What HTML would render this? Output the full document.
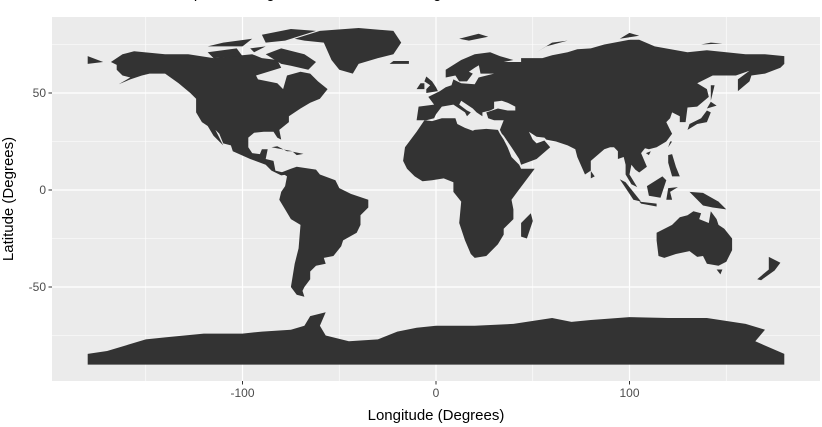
<!DOCTYPE html>
<html><head><meta charset="utf-8"><style>
html,body{margin:0;padding:0;background:#fff;width:822px;height:427px;overflow:hidden}
svg{display:block;font-family:"Liberation Sans",sans-serif}
</style></head><body>
<svg id="c" width="822" height="427">
<text x="130" y="-2" font-size="15" fill="#000">World Map, with Longitude and Latitude in Degrees</text>
<rect x="52" y="17" width="768" height="364" fill="#ebebeb"/>
<g id="grid"></g><g id="land"></g><g id="axes"></g>
<text x="436" y="420" font-size="15" text-anchor="middle" fill="#000">Longitude (Degrees)</text>
<text transform="translate(13,199) rotate(-90)" font-size="15" text-anchor="middle" fill="#000">Latitude (Degrees)</text>
</svg>
<script>
const xMajor=[-100,0,100], xMinor=[-150,-50,50,150];
const yMajor=[-50,0,50], yMinor=[-75,-25,25,75];
const xTickLabels=["-100","0","100"], yTickLabels=["-50","0","50"];
const northAmerica=[[-168,66],[-162,70],[-156,71.5],[-140,70],[-128,70],[-115,68],[-95,70],[-90,68],[-82,67],[-80,63],[-93,59],[-92,57],[-82,55],[-79,52],[-77,59],[-70,61],[-65,60],[-61,56],[-56,52],[-60,47],[-65,45],[-70,42],[-76,38],[-76,35],[-81,31],[-80,26],[-82,27],[-84,30],[-89,30],[-94,29.5],[-97,27],[-97,22],[-95,19],[-91,18.5],[-90,21],[-87,21],[-88,16],[-84,15],[-83,10],[-79,9],[-77,8],[-80,7.5],[-85,10],[-88,13],[-92,14.5],[-96,16],[-105,20],[-106,23],[-110,24],[-112,29],[-114,31],[-110,23],[-115,28],[-118,33],[-121,35],[-124,40],[-124,47],[-127,50],[-133,55],[-140,60],[-148,60],[-152,59],[-158,57],[-164,54.5],[-158,58],[-162,59],[-165,62],[-165,64.5]];
const greenland=[[-73,78],[-60,82],[-40,83.5],[-22,82],[-18,76],[-22,70],[-30,68],[-40,65],[-43,60],[-50,62],[-54,67],[-58,76],[-68,77]];
const arcticIslands=[[[-80,73],[-68,70],[-62,66],[-66,62],[-75,64],[-80,65],[-88,70]],[[-118,71],[-103,73],[-100,69],[-115,68]],[[-90,80],[-75,83],[-62,82],[-78,77],[-88,76]],[[-110,76],[-95,78],[-100,74],[-118,74]],[[-96,73],[-88,74],[-94,71]],[[-180,69],[-172,66],[-180,65]]];
const southAmerica=[[-80,9],[-75,11],[-72,12],[-62,10.5],[-60,8],[-52,5],[-50,1],[-44,-2],[-35,-5],[-35,-9],[-39,-13],[-39,-18],[-41,-22],[-48,-26],[-49,-29],[-53,-34],[-58,-35],[-57,-38],[-62,-39],[-65,-42],[-65,-46],[-68,-50],[-69,-52],[-68,-55],[-72,-54],[-75,-50],[-74,-44],[-73,-38],[-71,-30],[-70,-18],[-75,-15],[-78,-10],[-81,-5],[-80,-1],[-78,2],[-77,7]];
const eurasia=[[-10,36],[-9,43],[-1,44],[-4,48],[2,51],[5,53],[8,54],[9,57],[11,56],[13,55],[20,54.5],[22,58],[30,60],[23,60],[22,65],[25,66],[20,63],[17,61],[19,60],[16,56],[12,56],[10,59],[5,58],[5,62],[13,67],[20,70],[28,71],[33,69],[40,67],[35,66],[44,66],[44,68],[55,68],[60,69.5],[68,71],[73,72.5],[80,73],[87,75],[100,77.5],[105,77.5],[113,74],[130,71],[140,72],[150,71],[160,70],[170,70],[180,69],[180,65],[178,63],[170,60],[163,59],[162,56],[156,51],[156,57],[162,61.5],[155,59],[143,59],[135,55],[140,52],[141,48],[135,43],[130,42.5],[129,35],[126,35],[126,38],[122,40],[121,37],[119,35],[121,31],[122,29],[119,25],[114,22],[110,21],[108,21.5],[106,19],[109,12],[105,9],[103,10.5],[101,13],[100,8],[104,1.5],[101,3],[98,8],[98,13],[97,17],[94,16],[94,20],[92,22],[90,22],[87,21],[80,15],[80,10],[77,8],[73,17],[72,21],[68,23],[62,25],[57,26],[56,27],[52,27.5],[48,30],[50,26],[52,24],[56,25.5],[59,22],[52,16],[44,13],[43,16],[39,22],[35,28],[34,29],[33,31],[35,36],[30,36],[27,37],[26,40],[29,41],[32,42],[37,41],[41,41],[41,43],[37,45],[34,46],[30,45.5],[30,42],[28,41],[24,40],[24,38],[21,40],[19,42],[13,46],[12,44],[16,41],[18,40],[16,38],[15,40],[12,42],[9,44],[3,43],[0,39],[-1,37],[-5,36]];
const africa=[[-6,36],[-10,30],[-16,22],[-17,15],[-15,11],[-11,7],[-7,4.5],[-2,5],[4,6],[9,4],[9,-1],[13,-6],[12,-17],[15,-26],[18,-33],[20,-35],[26,-34],[32,-28],[35,-23],[35,-20],[40,-15],[40,-10],[39,-5],[42,-1],[51,11],[44,11],[43,13],[39,17],[37,22],[35,26],[33,29],[32,31],[26,31.5],[20,31],[19,30.5],[15,32],[11,34],[10,37],[3,37],[-2,35.5]];
const australia=[[114,-22],[114,-26],[115,-34],[118,-35],[124,-33],[131,-31.5],[135,-34.5],[138,-34],[140,-38],[146,-39],[150,-37],[153,-31],[153,-25],[149,-20],[146,-18],[145,-15],[142,-11],[141,-17],[136,-15],[137,-12],[133,-11],[130,-13],[126,-14],[122,-18]];
const antarctica=[[-180,-84.5],[-180,-90],[180,-90],[180,-84.5],[165,-78],[170,-72],[160,-69],[140,-66],[120,-66],[100,-65.5],[80,-67],[70,-68],[60,-66],[40,-69],[20,-70],[0,-70],[-10,-71],[-20,-73],[-30,-77],[-45,-78],[-57,-75],[-60,-70],[-57,-63],[-65,-65],[-68,-70],[-75,-72],[-90,-73],[-100,-74],[-120,-74],[-140,-76],[-150,-77],[-160,-80],[-170,-83]];
const islands=[[[-5,50],[1,51],[0,53],[-2,56],[-5,58.5],[-6,56],[-3,54],[-5,52]],[[-10,52],[-6,52],[-6,55],[-8,55]],[[-24,65],[-14,65],[-14,66.5],[-22,66.5]],[[130,31],[135,34],[140,35],[142,40],[140,41],[137,37],[131,34]],[[140,42],[145,43.5],[142,45.5]],[[95,5.5],[98,4],[106,-6],[102,-5]],[[109,2],[117,7],[119,5],[116,-4],[110,-3]],[[105,-6],[114,-7],[114,-8.5],[106,-7]],[[119,-5],[120,1],[125,1.5],[121,-1],[122,-5]],[[131,-1],[138,-1.5],[146,-6],[150,-10],[143,-9],[138,-8]],[[120,18],[122,18.5],[124,12],[126,7],[122,7],[120,14]],[[172,-34.5],[178,-37.5],[175,-41.5],[168,-46.5],[166,-46],[172,-41]],[[-85,22],[-74,20],[-77,20],[-82,22.5]],[[-74,19.7],[-68.5,18.6],[-72,18]],[[142,46],[144,54],[142,54]],[[12,78],[22,80.5],[27,79],[17,77]],[[52,71],[60,76],[68,77],[57,74]],[[95,78],[105,79.5],[100,81]],[[137,75],[148,75.5],[142,76]],[[145,-41],[148,-41],[147,-43.5]],[[80,6],[82,7],[80,9.8]],[[120,22],[122,25],[121,25]],[[108.5,19],[111,20],[110,18]],[[44,-17],[49,-12],[50,-16],[47,-25],[44,-24]]];
const NS="http://www.w3.org/2000/svg";
const x=lon=>436+lon*1.935, y=lat=>190-lat*1.94;
function mk(tag,attrs,parent){const e=document.createElementNS(NS,tag);for(const k in attrs)e.setAttribute(k,attrs[k]);parent.appendChild(e);return e;}
const grid=document.getElementById('grid'),land=document.getElementById('land'),axes=document.getElementById('axes');
xMinor.forEach(v=>{const l=mk('line',{x1:x(v),x2:x(v),y1:17,y2:381,stroke:'#fff','stroke-width':0.6},grid);

});
yMinor.forEach(v=>{const l=mk('line',{x1:52,x2:820,y1:y(v),y2:y(v),stroke:'#fff','stroke-width':0.6},grid);

});
xMajor.forEach((v,i)=>{const l=mk('line',{x1:x(v),x2:x(v),y1:17,y2:381,stroke:'#fff','stroke-width':1.2},grid);


const t=mk('line',{x1:x(v),x2:x(v),y1:381,y2:384.5,stroke:'#333','stroke-width':1},axes);


const tx=mk('text',{x:x(v),y:397,'font-size':12,'text-anchor':'middle',fill:'#4d4d4d'},axes);tx.textContent=xTickLabels[i];

});
yMajor.forEach((v,i)=>{const l=mk('line',{x1:52,x2:820,y1:y(v),y2:y(v),stroke:'#fff','stroke-width':1.2},grid);


const t=mk('line',{x1:48.5,x2:52,y1:y(v),y2:y(v),stroke:'#333','stroke-width':1},axes);


const tx=mk('text',{x:46,y:y(v)+4,'font-size':12,'text-anchor':'end',fill:'#4d4d4d'},axes);tx.textContent=yTickLabels[i];

});
function poly(pts,name){const p=mk('polygon',{points:pts.map(q=>x(q[0]).toFixed(1)+','+y(q[1]).toFixed(1)).join(' '),fill:'#333333'},land);

}
poly(northAmerica,'north-america');poly(greenland,'greenland');poly(southAmerica,'south-america');
poly(eurasia,'eurasia');poly(africa,'africa');poly(australia,'australia');poly(antarctica,'antarctica');
arcticIslands.forEach(a=>poly(a,'arctic-island'));islands.forEach(a=>poly(a,'island'));
</script>
</body></html>
